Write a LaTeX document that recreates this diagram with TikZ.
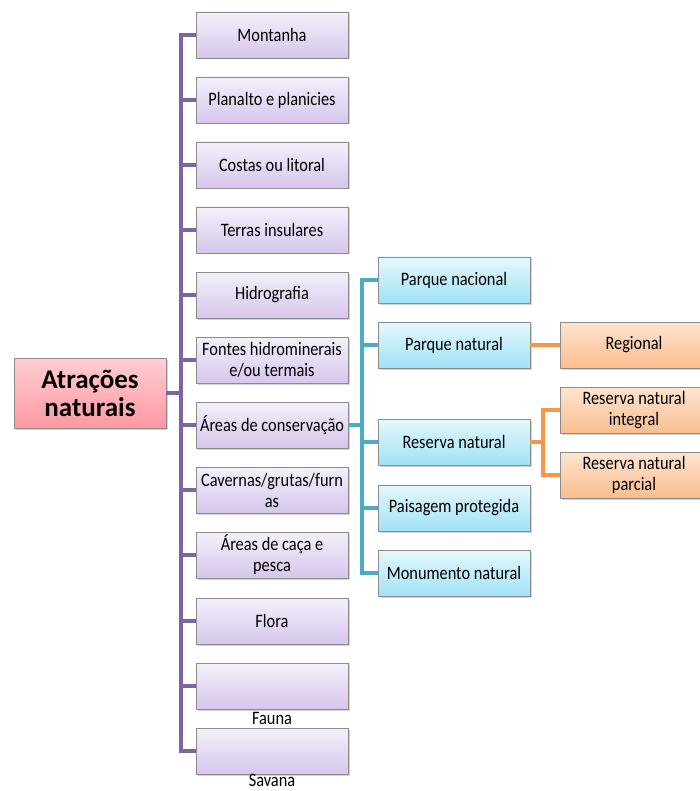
\documentclass[tikz,border=0pt]{standalone}
\usepackage{fontspec}
\setmainfont{Carlito}[FakeStretch=0.86]
\newfontfamily\rootfont{Carlito}
\usetikzlibrary{shadows}
\definecolor{purpleline}{RGB}{128,100,162}
\definecolor{cyanline}{RGB}{75,172,198}
\definecolor{orangeline}{RGB}{247,150,70}
\definecolor{boxborder}{RGB}{140,140,140}
\begin{document}
\begin{tikzpicture}[x=1pt,y=-1pt,
  box/.style={draw=boxborder, line width=0.8pt, minimum width=152pt,
    minimum height=46pt, inner sep=1pt, align=center,
    font=\fontsize{19}{21}\selectfont,
    drop shadow={opacity=0.35, shadow xshift=1.5pt, shadow yshift=-1.5pt}},
  purplebox/.style={box, top color={rgb,255:red,244;green,240;blue,250},
    bottom color={rgb,255:red,214;green,198;blue,236}},
  cyanbox/.style={box, top color={rgb,255:red,228;green,248;blue,253},
    bottom color={rgb,255:red,160;green,226;blue,245}},
  orangebox/.style={box, minimum width=148pt,
    top color={rgb,255:red,254;green,228;blue,208},
    bottom color={rgb,255:red,250;green,190;blue,142}},
  rootbox/.style={box, minimum height=70pt,
    font=\rootfont\fontsize{27}{28}\selectfont\bfseries,
    top color={rgb,255:red,255;green,206;blue,211},
    bottom color={rgb,255:red,255;green,152;blue,162}},
  under/.style={anchor=base, font=\fontsize{19}{21}\selectfont, inner sep=0pt},
  pline/.style={draw=purpleline, line width=4pt},
  cline/.style={draw=cyanline, line width=4pt},
  oline/.style={draw=orangeline, line width=4pt}]
\useasboundingbox (0,0) rectangle (700,791);

% root
\node[rootbox] (root) at (90,393) {Atrações\\naturais};

% first level
\node[purplebox] (montanha)  at (272,35)  {Montanha};
\node[purplebox] (planalto)  at (272,100) {Planalto e planicies};
\node[purplebox] (costas)    at (272,165) {Costas ou litoral};
\node[purplebox] (terras)    at (272,230) {Terras insulares};
\node[purplebox] (hidro)     at (272,295) {Hidrografia};
\node[purplebox] (fontes)    at (272,360) {Fontes hidrominerais\\e/ou termais};
\node[purplebox] (conserv)   at (272,425) {Áreas de conservação};
\node[purplebox] (cavernas)  at (272,490) {Cavernas/grutas/furn\\as};
\node[purplebox] (caca)      at (272,555) {Áreas de caça e\\pesca};
\node[purplebox] (flora)     at (272,621) {Flora};
\node[purplebox] (fauna)     at (272,686) {};
\node[purplebox] (savana)    at (272,751) {};
\node[under] (faunatext)  at (272,724) {Fauna};
\node[under] (savanatext) at (272,786) {Savana};

% second level
\node[cyanbox] (pnac)  at (454,280) {Parque nacional};
\node[cyanbox] (pnat)  at (454,345) {Parque natural};
\node[cyanbox] (rnat)  at (454,442) {Reserva natural};
\node[cyanbox] (paisa) at (454,508) {Paisagem protegida};
\node[cyanbox] (monu)  at (454,573) {Monumento natural};

% third level
\node[orangebox] (regional) at (634,345) {Regional};
\node[orangebox] (rint)     at (634,410) {Reserva natural\\integral};
\node[orangebox] (rpar)     at (634,475) {Reserva natural\\parcial};

% purple trunk
\coordinate (ptrunk) at (181,0);
\draw[pline] (montanha.west) -- (montanha.west -| ptrunk)
  -- (savana.west -| ptrunk) -- (savana.west);
\foreach \n in {planalto,costas,terras,hidro,fontes,conserv,cavernas,caca,flora,fauna}
  \draw[pline] (\n.west -| ptrunk) -- (\n.west);
\draw[pline] (root.east) -- (root.east -| ptrunk);

% cyan trunk
\coordinate (ctrunk) at (362,0);
\draw[cline] (pnac.west) -- (pnac.west -| ctrunk)
  -- (monu.west -| ctrunk) -- (monu.west);
\foreach \n in {pnat,rnat,paisa}
  \draw[cline] (\n.west -| ctrunk) -- (\n.west);
\draw[cline] (conserv.east) -- (conserv.east -| ctrunk);

% orange links
\coordinate (otrunk) at (543,0);
\draw[oline] (pnat.east) -- (regional.west);
\draw[oline] (rint.west) -- (rint.west -| otrunk)
  -- (rpar.west -| otrunk) -- (rpar.west);
\draw[oline] (rnat.east) -- (rnat.east -| otrunk);
\end{tikzpicture}
\end{document}
